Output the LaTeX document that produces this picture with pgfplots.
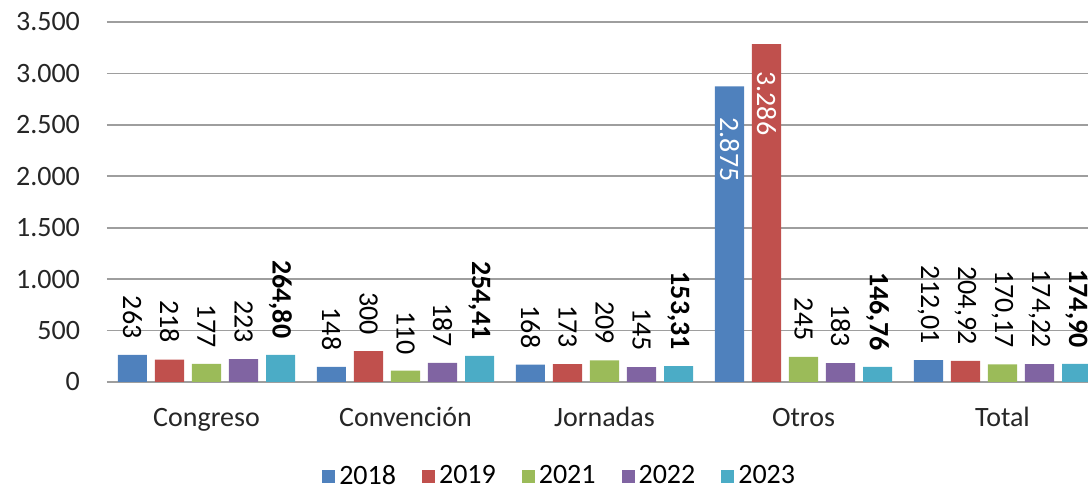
\documentclass[border=0pt]{standalone}
\usepackage{fontspec}
\setmainfont{Carlito}
\usepackage{pgfplots}
\pgfplotsset{compat=1.18}
\definecolor{c18}{HTML}{4F81BD}
\definecolor{c19}{HTML}{C0504D}
\definecolor{c21}{HTML}{9BBB59}
\definecolor{c22}{HTML}{8064A2}
\definecolor{c23}{HTML}{4BACC6}
\pgfplotsset{
  barsty/.style 2 args={ybar, bar width=0.146, bar shift=#1, draw=none,
    nodes near coords, point meta=explicit symbolic,
    every node near coord/.append style={xshift=#2, rotate=-90, anchor=east, inner xsep=8pt, inner ysep=1pt, text=black}},
  insty/.style n args={3}{ybar, bar width=0.146, bar shift=#1, draw=none, fill=none, forget plot,
    nodes near coords, point meta=explicit symbolic,
    every node near coord/.append style={xshift=#2, rotate=-90, anchor=west, inner xsep=#3, inner ysep=1pt, text=white}},
}
\begin{document}
\begin{tikzpicture}[font=\fontsize{14}{16.8}\selectfont]
\path[use as bounding box] (0,0) rectangle (544pt,245pt);
\begin{axis}[
  at={(53.5pt,54pt)}, anchor=south west,
  scale only axis, width=497.5pt, height=180pt,
  xmin=-0.5, xmax=4.5, ymin=0, ymax=3500,
  ytick={0,500,1000,1500,2000,2500,3000,3500},
  yticklabels={0,500,1.000,1.500,2.000,2.500,3.000,3.500},
  xtick={0,1,2,3,4},
  xticklabels={Congreso,Convención,Jornadas,Otros,Total},
  major tick length=0pt,
  axis line style={draw=none},
  ymajorgrids, grid style={color=black!38, line width=0.8pt},
  yticklabel style={anchor=east, xshift=-10pt, text=black!85},
  xticklabel style={anchor=base, yshift=-22.5pt, text=black!85},
  clip=false,
  legend columns=5,
  legend style={at={(0.456,-0.262)}, anchor=center, draw=none, fill=none,
    nodes={inner ysep=1pt},
    /tikz/every even column/.append style={column sep=11pt}},
  legend image code/.code={\fill[#1] (0pt,-3.25pt) rectangle (6.5pt,3.25pt);},
]
\addplot[barsty={-0.372}{-37pt}, fill=c18] coordinates {(0,263)[263] (1,148)[148] (2,168)[168] (3,2875)[] (4,212.01)[212,01]};
\addlegendentry{2018}
\addplot[barsty={-0.186}{-18.5pt}, fill=c19] coordinates {(0,218)[218] (1,300)[300] (2,173)[173] (3,3286)[] (4,204.92)[204,92]};
\addlegendentry{2019}
\addplot[barsty={0}{0pt}, fill=c21] coordinates {(0,177)[177] (1,110)[110] (2,209)[209] (3,245)[245] (4,170.17)[170,17]};
\addlegendentry{2021}
\addplot[barsty={0.186}{18.5pt}, fill=c22] coordinates {(0,223)[223] (1,187)[187] (2,145)[145] (3,183)[183] (4,174.22)[174,22]};
\addlegendentry{2022}
\addplot[barsty={0.372}{37pt}, fill=c23, every node near coord/.append style={font=\fontsize{14}{16.8}\selectfont\bfseries}] coordinates {(0,264.80)[264,80] (1,254.41)[254,41] (2,153.31)[153,31] (3,146.76)[146,76] (4,174.90)[174,90]};
\addlegendentry{2023}
\addplot[insty={-0.372}{-37pt}{15.5pt}] coordinates {(3,2875)[2.875]};
\addplot[insty={-0.186}{-18.5pt}{13.5pt}] coordinates {(3,3286)[3.286]};
\end{axis}
\end{tikzpicture}
\end{document}
